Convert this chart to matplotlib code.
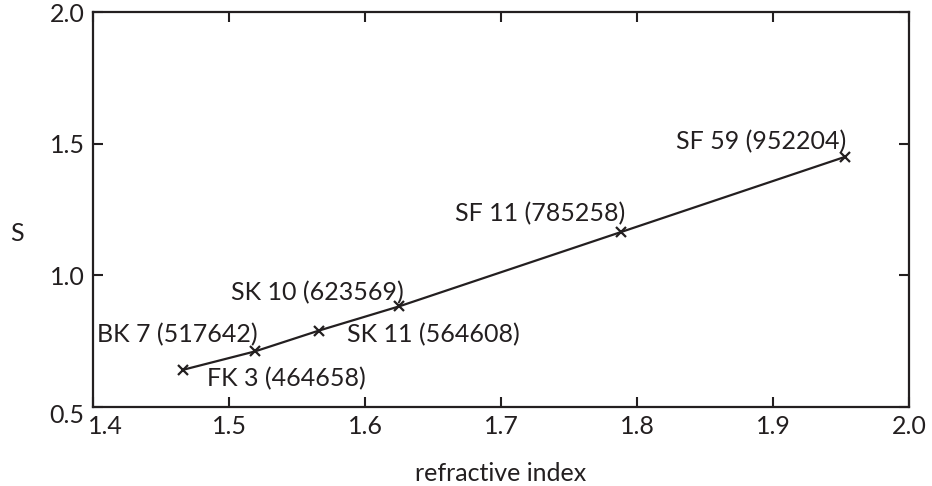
import matplotlib
matplotlib.use("Agg")
import matplotlib.pyplot as plt
from matplotlib.transforms import ScaledTranslation

plt.rcParams['font.family'] = ['Lato', 'DejaVu Sans']

glasses = ["FK 3 (464658)", "BK 7 (517642)", "SK 11 (564608)", "SK 10 (623569)",
           "SF 11 (785258)", "SF 59 (952204)"]
n_index = [1.466, 1.519, 1.566, 1.625, 1.788, 1.953]
s_values = [0.641, 0.711, 0.790, 0.882, 1.164, 1.450]
label_x = [1.484, 1.403, 1.587, 1.5015, 1.666, 1.829]
label_y = [0.607, 0.775, 0.775, 0.935, 1.233, 1.508]
x_ticks = [1.4, 1.5, 1.6, 1.7, 1.8, 1.9, 2.0]
y_ticks = [0.5, 1.0, 1.5, 2.0]

C = '#231f20'
FS = 18

fig = plt.figure(figsize=(9.32, 4.86), dpi=100)
ax = fig.add_axes([93/932, 1-407/486, (909-93)/932, (407-12)/486])

ax.plot(n_index, s_values, color=C, lw=1.6, marker='x', markersize=7, mew=1.6)
for name, lx, ly in zip(glasses, label_x, label_y):
    ax.text(lx, ly, name, ha='left', va='center', fontsize=FS, color=C)

ax.set_xlim(1.4, 2.0)
ax.set_ylim(0.5, 2.0)
ax.set_xticks(x_ticks)
ax.set_yticks(y_ticks)
ax.set_xticklabels([f"{v:.1f}" for v in x_ticks])
ax.set_yticklabels([f"{v:.1f}" for v in y_ticks])
ax.tick_params(direction='in', length=7, width=1.5, colors=C, labelsize=FS,
               top=True, right=True, pad=6, labelcolor=C)
for sp in ax.spines.values():
    sp.set_linewidth(1.6)
    sp.set_color(C)

# shift corner labels as in reference
xl = ax.get_xticklabels()[0]
xl.set_transform(xl.get_transform() + ScaledTranslation(12/100, 0, fig.dpi_scale_trans))
yl = ax.get_yticklabels()[0]
yl.set_transform(yl.get_transform() + ScaledTranslation(0, -6/100, fig.dpi_scale_trans))

ax.set_xlabel('refractive index', fontsize=FS, color=C)
ax.xaxis.set_label_coords(0.5, -(473-407)/395)
ax.xaxis.label.set_va('center')
ax.set_ylabel('S', fontsize=FS, color=C, rotation=0)
ax.yaxis.set_label_coords(-(93-17)/816, (407-233)/395)
ax.yaxis.label.set_va('center')
ax.yaxis.label.set_ha('center')

fig.savefig('out.png', dpi=100)
